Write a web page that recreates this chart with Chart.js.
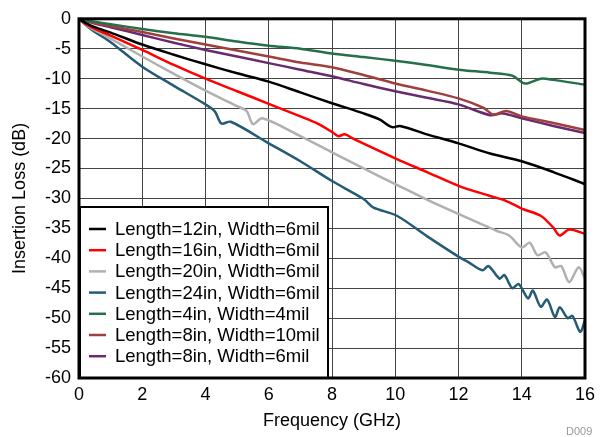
<!DOCTYPE html>
<html>
<head>
    <title>Insertion Loss vs Frequency</title>
    <script src="https://cdn.jsdelivr.net/npm/chart.js"></script>
    <style>
        html, body {margin: 0; padding: 0; background: #fff;}
        #wrap {width: 612px; height: 437px;}
    </style>
</head>
<body>
    <div id="wrap"><canvas id="myChart" width="612" height="437"></canvas></div>
    <script>
        // series labels and colours
        var labels = [
            'Length=12in, Width=6mil',
            'Length=16in, Width=6mil',
            'Length=20in, Width=6mil',
            'Length=24in, Width=6mil',
            'Length=4in, Width=4mil',
            'Length=8in, Width=10mil',
            'Length=8in, Width=6mil'
        ];
        var colors = ['#000000', '#ff0000', '#b0b0b0', '#245b75', '#25704a', '#a0403c', '#6a2a70'];

        // frequency (GHz) and insertion loss (dB)
        var f12 = [0, 0.25, 0.5, 1, 2, 3, 4, 5, 6, 7, 8, 9, 9.5, 9.9, 10.15, 11, 12, 13, 14, 15, 16];
        var il12 = [0, -0.8, -1.4, -2.3, -4.3, -6.0, -7.6, -9.1, -10.5, -12.3, -14.1, -15.8, -16.8, -18.1, -17.9, -19.3, -20.8, -22.5, -23.8, -25.6, -27.6];

        var f16 = [0, 0.25, 0.5, 1, 2, 3, 4, 5, 6, 7, 7.5, 8, 8.2, 8.4, 8.7, 10, 11, 12, 13, 13.5, 14, 14.6, 15, 15.2, 15.5, 16];
        var il16 = [0, -1.0, -1.7, -2.8, -5.2, -7.7, -10.0, -12.1, -14.2, -16.3, -17.4, -18.9, -19.6, -19.3, -20.1, -23.3, -25.6, -27.9, -29.6, -30.4, -31.7, -32.9, -34.9, -36.2, -35.2, -35.9];

        var f20 = [0, 0.25, 0.5, 1, 2, 3, 4, 5, 5.3, 5.5, 5.8, 7, 8, 9, 10, 11, 12, 13.2, 13.6, 14, 14.25, 14.5, 14.75, 15.05, 15.25, 15.5, 15.8, 16];
        var il20 = [0, -1.1, -1.9, -3.3, -6.3, -9.2, -12.0, -14.6, -15.4, -17.6, -16.6, -19.6, -22.3, -25.0, -27.6, -30.2, -32.6, -35.4, -36.2, -38.2, -37.4, -39.5, -39.0, -41.5, -41.3, -44.0, -41.5, -43.4];

        var f24 = [0, 0.25, 0.5, 1, 2, 3, 4, 4.3, 4.5, 4.8, 6, 7, 8, 9, 9.3, 10.05, 11, 12.05, 12.3, 12.75, 12.95, 13.3, 13.45, 13.7, 13.9, 14.2, 14.35, 14.6, 14.8, 15.05, 15.2, 15.45, 15.6, 15.85, 16];
        var il24 = [0, -1.2, -2.2, -3.9, -8.0, -11.2, -14.3, -15.5, -17.5, -17.2, -20.8, -23.8, -27.1, -30.1, -31.5, -32.9, -36.3, -39.9, -40.6, -42.0, -41.3, -43.4, -42.8, -45.0, -44.3, -46.7, -45.4, -48.1, -46.9, -49.8, -48.2, -50.0, -49.6, -52.3, -50.3];

        var f4 = [0, 0.5, 1, 2, 3, 4, 5, 6, 7, 8, 9, 10, 11, 12, 13, 13.7, 14.1, 14.6, 15, 16];
        var il4 = [0, -0.5, -0.9, -1.7, -2.4, -3.0, -3.8, -4.5, -5.0, -5.8, -6.4, -7.0, -7.7, -8.5, -9.0, -9.5, -10.8, -10.0, -10.2, -11.0];

        var f8w = [0, 0.5, 1, 2, 3, 4, 5, 6, 7, 8, 9, 10, 11, 12, 12.8, 13.1, 13.5, 14, 15, 16];
        var il8w = [0, -0.7, -1.2, -2.2, -3.3, -4.3, -5.3, -6.3, -7.3, -8.1, -9.4, -10.8, -12.0, -13.3, -14.9, -16.0, -15.4, -16.3, -17.4, -18.6];

        var f8 = [0, 0.5, 1, 2, 3, 4, 5, 6, 7, 8, 9, 10, 11, 12, 13, 13.4, 14, 15, 16];
        var il8 = [0, -0.8, -1.4, -2.7, -4.0, -5.2, -6.3, -7.4, -8.5, -9.6, -10.9, -12.1, -13.2, -14.3, -16.1, -15.8, -16.6, -17.9, -19.1];

        var xTicks = [0, 2, 4, 6, 8, 10, 12, 14, 16];
        var yTicks = [0, -5, -10, -15, -20, -25, -30, -35, -40, -45, -50, -55, -60];

        var freqs = [f12, f16, f20, f24, f4, f8w, f8];
        var losses = [il12, il16, il20, il24, il4, il8w, il8];

        var datasets = labels.map(function(lab, i) {
            return {
                label: lab,
                data: freqs[i].map(function(f, j) { return {x: f, y: losses[i][j]}; }),
                borderColor: colors[i],
                backgroundColor: colors[i],
                borderWidth: 2.5,
                pointRadius: 0,
                tension: 0.3,
                fill: false,
                order: i
            };
        });

        var fontFam = '"Liberation Sans", Arial, sans-serif';

        // legend box inside the plot, plus the border and the little figure id
        var extras = {
            id: 'extras',
            afterDraw: function(chart) {
                var c = chart.ctx, a = chart.chartArea;
                c.save();
                // legend
                var bx = a.left + 1, by = 207, bw = 248, bh = a.bottom - by;
                c.fillStyle = '#fff';
                c.fillRect(bx, by, bw, bh);
                c.strokeStyle = '#000';
                c.lineWidth = 2;
                c.strokeRect(bx, by, bw, bh);
                c.font = '18.5px ' + fontFam;
                c.textBaseline = 'middle';
                chart.data.datasets.forEach(function(d, i) {
                    var y = 229 + i * 21.2;
                    c.strokeStyle = d.borderColor;
                    c.lineWidth = 2.5;
                    c.beginPath();
                    c.moveTo(89, y);
                    c.lineTo(106, y);
                    c.stroke();
                    c.fillStyle = '#000';
                    c.fillText(d.label, 115, y + 1);
                });
                // plot border
                c.strokeStyle = '#000';
                c.lineWidth = 3;
                c.strokeRect(a.left, a.top, a.right - a.left, a.bottom - a.top);
                // id
                c.fillStyle = '#999';
                c.font = '11px ' + fontFam;
                c.textBaseline = 'alphabetic';
                c.fillText('D009', 566, 435);
                c.restore();
            }
        };

        var ctx = document.getElementById('myChart').getContext('2d');
        new Chart(ctx, {
            type: 'line',
            data: {datasets: datasets},
            plugins: [extras],
            options: {
                responsive: false,
                animation: false,
                layout: {padding: {top: 17, right: 27, left: 0, bottom: 0}},
                plugins: {
                    legend: {display: false},
                    tooltip: {enabled: false}
                },
                scales: {
                    x: {
                        type: 'linear',
                        min: 0,
                        max: 16,
                        afterBuildTicks: function(s) { s.ticks = xTicks.map(function(v) { return {value: v}; }); },
                        afterFit: function(s) { s.height = 59; },
                        grid: {color: '#444', lineWidth: 1, drawTicks: false},
                        border: {display: false},
                        ticks: {color: '#000', padding: 6, font: {size: 18, family: fontFam}},
                        title: {
                            display: true,
                            text: 'Frequency (GHz)',
                            color: '#000',
                            padding: {top: 0, bottom: 5},
                            font: {size: 18, family: fontFam}
                        }
                    },
                    y: {
                        min: -60,
                        max: 0,
                        afterBuildTicks: function(s) { s.ticks = yTicks.map(function(v) { return {value: v}; }); },
                        afterFit: function(s) { s.width = 79; },
                        grid: {color: '#444', lineWidth: 1, drawTicks: false},
                        border: {display: false},
                        ticks: {color: '#000', padding: 8, font: {size: 18, family: fontFam}},
                        title: {
                            display: true,
                            text: 'Insertion Loss (dB)',
                            color: '#000',
                            padding: {top: 9, bottom: 0},
                            font: {size: 18, family: fontFam}
                        }
                    }
                }
            }
        });
    </script>
</body>
</html>
